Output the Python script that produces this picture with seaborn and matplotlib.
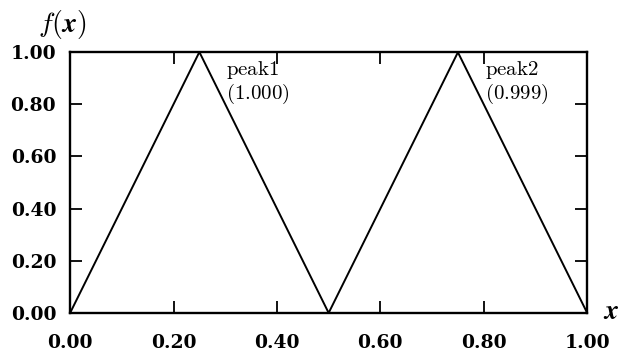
import matplotlib
matplotlib.use("Agg")
import matplotlib.pyplot as plt
import seaborn as sns
import pandas as pd

x_vals = [0.0, 0.25, 0.5, 0.75, 1.0]
f_vals = [0.0, 1.0, 0.0, 0.999, 0.0]
peak_names = ["peak1", "peak2"]
peak_x = [0.25, 0.75]
peak_f = [1.000, 0.999]
tick_vals = [0.0, 0.2, 0.4, 0.6, 0.8, 1.0]

sns.set_style("ticks")
plt.rcParams['font.family'] = ['DejaVu Serif']
plt.rcParams['mathtext.fontset'] = 'cm'
plt.rcParams['text.color'] = 'black'
plt.rcParams['xtick.color'] = 'black'
plt.rcParams['ytick.color'] = 'black'

df = pd.DataFrame({"x": x_vals, "f": f_vals})

fig, ax = plt.subplots(figsize=(6.26, 3.54), dpi=100)
fig.subplots_adjust(left=0.112, right=0.938, top=0.853, bottom=0.116)

sns.lineplot(data=df, x="x", y="f", color="black", linewidth=1.4, ax=ax)

ax.set_xlim(0, 1)
ax.set_ylim(0, 1)
ax.set_xticks(tick_vals)
ax.set_yticks(tick_vals)
tick_labels = [f"{t:.2f}" for t in tick_vals]
ax.set_xticklabels(tick_labels, fontsize=13.5, fontweight="bold")
ax.set_yticklabels(tick_labels, fontsize=13.5, fontweight="bold")
ax.tick_params(direction="in", top=True, right=True, length=8.5, width=1.3)
ax.tick_params(axis="x", pad=15)
ax.tick_params(axis="y", pad=10)
for s in ax.spines.values():
    s.set_linewidth(1.7)
    s.set_color("black")
ax.set_xlabel("")
ax.set_ylabel("")

# peak annotations: name on one line, value just below
for name, px, pf in zip(peak_names, peak_x, peak_f):
    ax.text(px + 0.052, 0.912, r"$\mathrm{%s}$" % name, fontsize=15,
            va="baseline", ha="left")
    ax.text(px + 0.052, 0.822, r"$\mathrm{(%.3f)}$" % pf, fontsize=15,
            va="baseline", ha="left")

fig.text(0.099, 0.932, r"$f(\mathbfit{x})$", fontsize=20, ha="center", va="center")
fig.text(0.976, 0.12, r"$\mathbfit{x}$", fontsize=20, ha="center", va="center")

fig.savefig("out.png", dpi=100)
